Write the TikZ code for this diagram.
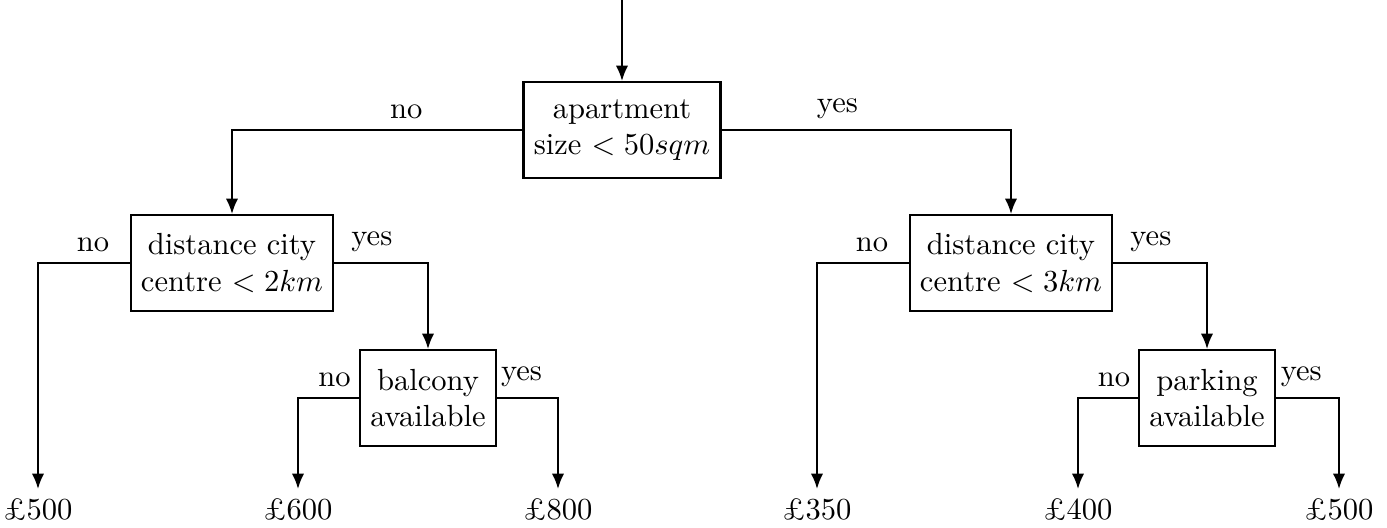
\documentclass[tikz,border=0pt]{standalone}
\usetikzlibrary{arrows.meta}
\begin{document}
\begin{tikzpicture}[x=0.0115cm,y=-0.0115cm,>={Latex[length=5pt,width=4pt]},semithick,
  itm/.style={draw=black,thick,rectangle,align=center,minimum height=1.1cm},
  lf/.style={inner sep=3pt}]
\useasboundingbox (0,0) rectangle (1387,527);
\coordinate (In) at (622,0);
\node[itm] (Ap) at (622,130) {apartment\\size $< 50sqm$};
\node[itm] (Dl) at (232,263) {distance city\\centre $< 2km$};
\node[itm] (Dr) at (1011,263) {distance city\\centre $< 3km$};
\node[itm] (Ba) at (428,398) {balcony\\available};
\node[itm] (Pa) at (1207,398) {parking\\available};
\node[lf] (E1) at (38,510) {\pounds500};
\node[lf] (E2) at (298,510) {\pounds600};
\node[lf] (E3) at (558,510) {\pounds800};
\node[lf] (E4) at (817,510) {\pounds350};
\node[lf] (E5) at (1078,510) {\pounds400};
\node[lf] (E6) at (1339,510) {\pounds500};
\draw[->] (In) -- (Ap);
\draw[->] (Ap) -| node[pos=0.2,above] {no} (Dl);
\draw[->] (Ap) -| node[pos=0.2,above] {yes} (Dr);
\draw[->] (Dl) -| node[pos=0.2,above] {no} (E1);
\draw[->] (Dl) -| node[pos=0.2,above] {yes} (Ba);
\draw[->] (Ba) -| node[pos=0.2,above] {no} (E2);
\draw[->] (Ba) -| node[pos=0.2,above] {yes} (E3);
\draw[->] (Dr) -| node[pos=0.2,above] {no} (E4);
\draw[->] (Dr) -| node[pos=0.2,above] {yes} (Pa);
\draw[->] (Pa) -| node[pos=0.2,above] {no} (E5);
\draw[->] (Pa) -| node[pos=0.2,above] {yes} (E6);
\end{tikzpicture}
\end{document}
